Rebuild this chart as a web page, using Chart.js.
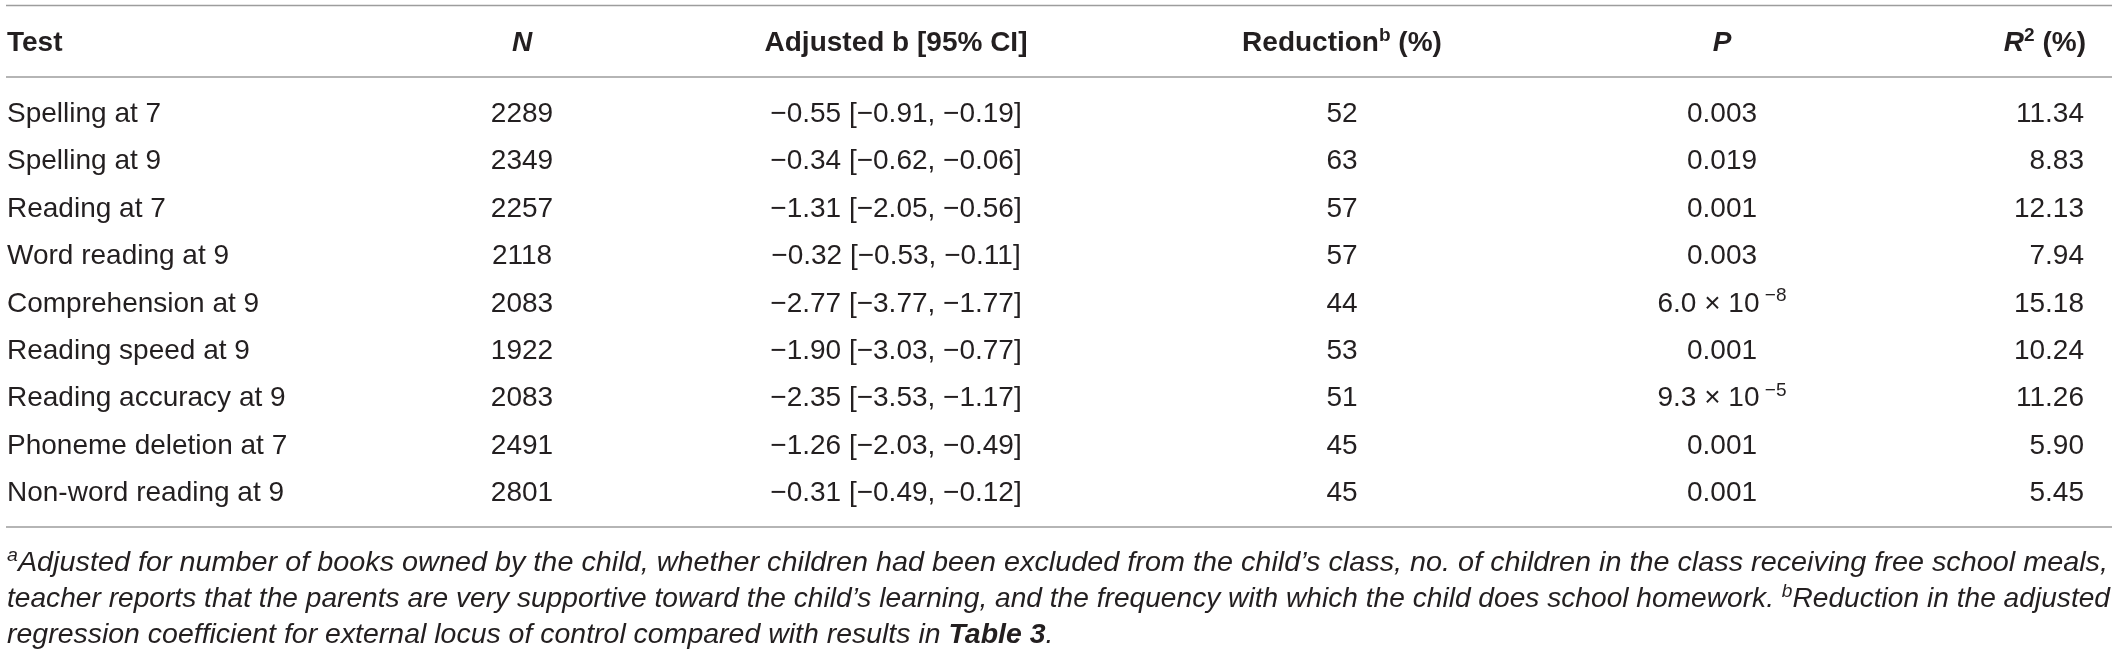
<!DOCTYPE html>
<html>
<head>
<meta charset="utf-8">
<script src="https://cdn.jsdelivr.net/npm/chart.js@4.4.0/dist/chart.umd.min.js"></script>
<style>
html,body{margin:0;padding:0;background:#fff;}
#wrap{width:2119px;height:651px;position:relative;}
</style>
</head>
<body>
<div id="wrap"><canvas id="c"></canvas></div>
<script>
// ---- data ----
const tests = ["Spelling at 7","Spelling at 9","Reading at 7","Word reading at 9","Comprehension at 9","Reading speed at 9","Reading accuracy at 9","Phoneme deletion at 7","Non-word reading at 9"];
const nValues = [2289, 2349, 2257, 2118, 2083, 1922, 2083, 2491, 2801];
const bEst   = [-0.55, -0.34, -1.31, -0.32, -2.77, -1.90, -2.35, -1.26, -0.31];
const ciLow  = [-0.91, -0.62, -2.05, -0.53, -3.77, -3.03, -3.53, -2.03, -0.49];
const ciHigh = [-0.19, -0.06, -0.56, -0.11, -1.77, -0.77, -1.17, -0.49, -0.12];
const reduction = [52, 63, 57, 57, 44, 53, 51, 45, 45];
const pValues = ["0.003","0.019","0.001","0.003","6.0 × 10^−8","0.001","9.3 × 10^−5","0.001","0.001"];
const r2 = [11.34, 8.83, 12.13, 7.94, 15.18, 10.24, 11.26, 5.90, 5.45];

// ---- layout / style ----
const FONT = '"Liberation Sans", Arial, Helvetica, sans-serif';
const TEXT = '#231f20';
const RULE = '#9d9d9d';
const SIZE = 28;
const col = { test: 7, n: 522, b: 896, red: 1342, p: 1722, r2: 2084 };
const lineX = [6, 2112];
const ruleY = [5.5, 77, 527];
const headerBase = 51;
const noteBase = [571, 607, 643];
const noteRight = [2108, 2110];

function fontStr(s, sz){ return (s.i?'italic ':'')+(s.b?'bold ':'')+sz+'px '+FONT; }
function drawRich(ctx, segs, x, y, align, size, sx){
  sx = sx || 1;
  let w = 0;
  segs.forEach(s=>{ const sz = s.sup ? size*0.68 : size; ctx.font = fontStr(s, sz); s._w = ctx.measureText(s.t).width; w += s._w; });
  const x0 = align==='center' ? x - w*sx/2 : (align==='right' ? x - w*sx : x);
  ctx.save(); ctx.translate(x0, y); ctx.scale(sx, 1);
  let cx = 0;
  segs.forEach(s=>{ const sz = s.sup ? size*0.68 : size; ctx.font = fontStr(s, sz); ctx.fillText(s.t, cx, s.sup ? -size*0.37 : 0); cx += s._w; });
  ctx.restore();
  return w;
}
function measureRich(ctx, segs, size){
  let w = 0;
  segs.forEach(s=>{ const sz = s.sup ? size*0.68 : size; ctx.font = fontStr(s, sz); w += ctx.measureText(s.t).width; });
  return w;
}
const fmt = v => v.toFixed(2).replace('-', '\u2212');
function parseSup(str){
  const k = str.indexOf('^');
  if (k < 0) return [{t:str}];
  return [{t:str.slice(0,k)}, {t:' ', sup:true}, {t:str.slice(k+1), sup:true}];
}

const headers = [
  {segs:[{t:'Test',b:1}], x:col.test, align:'left'},
  {segs:[{t:'N',b:1,i:1}], x:col.n, align:'center'},
  {segs:[{t:'Adjusted b [95% CI]',b:1}], x:col.b, align:'center'},
  {segs:[{t:'Reduction',b:1},{t:'b',b:1,sup:1},{t:' (%)',b:1}], x:col.red, align:'center'},
  {segs:[{t:'P',b:1,i:1}], x:col.p, align:'center'},
  {segs:[{t:'R',b:1,i:1},{t:'2',b:1,sup:1},{t:' (%)',b:1}], x:col.r2+2, align:'right'}
];
const notes = [
  [{t:'a',i:1,sup:1},{t:'Adjusted for number of books owned by the child, whether children had been excluded from the child\u2019s class, no. of children in the class receiving free school meals,',i:1}],
  [{t:'teacher reports that the parents are very supportive toward the child\u2019s learning, and the frequency with which the child does school homework. ',i:1},{t:'b',i:1,sup:1},{t:'Reduction in the adjusted',i:1}],
  [{t:'regression coefficient for external locus of control compared with results in ',i:1},{t:'Table 3',i:1,b:1},{t:'.',i:1}]
];

const tablePlugin = {
  id: 'tableText',
  beforeDraw(chart){
    const ctx = chart.ctx;
    ctx.save(); ctx.fillStyle = '#fff'; ctx.fillRect(0,0,chart.width,chart.height); ctx.restore();
  },
  afterDraw(chart){
    const ctx = chart.ctx;
    const xs = chart.scales.x, ys = chart.scales.y;
    ctx.save();
    // rules
    ctx.strokeStyle = RULE; ctx.lineWidth = 1.6;
    ruleY.forEach(y=>{ ctx.beginPath(); ctx.moveTo(xs.getPixelForValue(lineX[0]), y); ctx.lineTo(xs.getPixelForValue(lineX[1]), y); ctx.stroke(); });
    ctx.fillStyle = TEXT; ctx.textBaseline = 'alphabetic'; ctx.textAlign = 'left';
    // header
    headers.forEach(h=> drawRich(ctx, h.segs, xs.getPixelForValue(h.x), headerBase, h.align, SIZE));
    // rows
    tests.forEach((t,i)=>{
      const y = ys.getPixelForValue(i) + 10;
      drawRich(ctx, [{t:t}], xs.getPixelForValue(col.test), y, 'left', SIZE);
      drawRich(ctx, [{t:String(nValues[i])}], xs.getPixelForValue(col.n), y, 'center', SIZE);
      drawRich(ctx, [{t: fmt(bEst[i]) + ' [' + fmt(ciLow[i]) + ', ' + fmt(ciHigh[i]) + ']'}], xs.getPixelForValue(col.b), y, 'center', SIZE);
      drawRich(ctx, [{t:String(reduction[i])}], xs.getPixelForValue(col.red), y, 'center', SIZE);
      drawRich(ctx, parseSup(pValues[i]), xs.getPixelForValue(col.p), y, 'center', SIZE);
      drawRich(ctx, [{t: r2[i].toFixed(2)}], xs.getPixelForValue(col.r2), y, 'right', SIZE);
    });
    // footnotes
    const sx1 = (noteRight[0] - col.test) / measureRich(ctx, notes[0], SIZE);
    const sx2 = (noteRight[1] - col.test) / measureRich(ctx, notes[1], SIZE);
    const sxs = [sx1, sx2, (sx1 + sx2) / 2];
    notes.forEach((segs,k)=> drawRich(ctx, segs, xs.getPixelForValue(col.test), noteBase[k], 'left', SIZE, sxs[k]));
    ctx.restore();
  }
};

new Chart(document.getElementById('c'), {
  type: 'scatter',
  data: { labels: tests, datasets: [{ data: tests.map((t,i)=>({x: nValues[i], y: t})), pointRadius: 0, pointHoverRadius: 0, showLine: false }] },
  options: {
    responsive: true, maintainAspectRatio: false, animation: false, events: [],
    layout: { padding: { top: 88.3, bottom: 651 - 514.7, left: 0, right: 0 } },
    plugins: { legend: { display: false }, tooltip: { enabled: false } },
    scales: {
      x: { type: 'linear', min: 0, max: 2119, display: false },
      y: { type: 'category', labels: tests, offset: true, display: false }
    }
  },
  plugins: [tablePlugin]
});
</script>
</body>
</html>
